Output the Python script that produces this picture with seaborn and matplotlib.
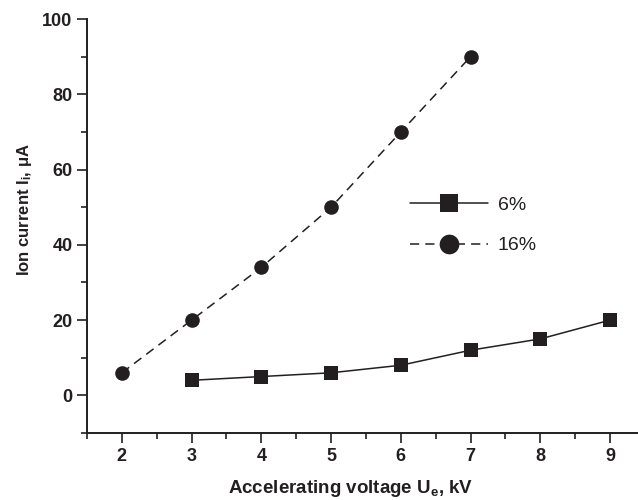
import numpy as np
import pandas as pd
import matplotlib
matplotlib.use("Agg")
import matplotlib.pyplot as plt
import seaborn as sns

# values
voltage_6 = [3, 4, 5, 6, 7, 8, 9]
current_6 = [4, 5, 6, 8, 12, 15, 20]
voltage_16 = [2, 3, 4, 5, 6, 7]
current_16 = [6, 20, 34, 50, 70, 90]

x_ticks = [2, 3, 4, 5, 6, 7, 8, 9]
y_ticks = [0, 20, 40, 60, 80, 100]

INK = "#231f20"

sns.set_theme(style="ticks")
plt.rcParams["font.family"] = ["Liberation Sans", "DejaVu Sans"]
plt.rcParams["mathtext.fontset"] = "custom"
plt.rcParams["mathtext.rm"] = "Liberation Sans"
plt.rcParams["mathtext.bf"] = "Liberation Sans:bold"
plt.rcParams["mathtext.it"] = "Liberation Sans:italic"

fig = plt.figure(figsize=(6.38, 5.0), dpi=100)
ax = fig.add_axes([87 / 638, 67 / 500, 1 - 87 / 638, (433 - 19) / 500])

df6 = pd.DataFrame({"U": voltage_6, "I": current_6})
df16 = pd.DataFrame({"U": voltage_16, "I": current_16})

sns.lineplot(data=df6, x="U", y="I", ax=ax, color=INK, lw=1.1,
             marker="s", markersize=9.5, markeredgewidth=0, label="6%")
sns.lineplot(data=df16, x="U", y="I", ax=ax, color=INK, lw=1.1,
             marker="o", markersize=10.5, markeredgewidth=0, label="16%",
             dashes=(6, 4))

ax.set_xlim(1.5, 9.4)
ax.set_ylim(-10, 100)
ax.set_xticks(x_ticks)
ax.set_yticks(y_ticks)
ax.set_xticks(np.arange(1.5, 9.5, 0.5), minor=True)
ax.set_yticks(np.arange(-10, 101, 10), minor=True)
ax.tick_params(which="major", length=7, width=1.2, color=INK,
               labelsize=13, labelcolor=INK, direction="out")
ax.tick_params(which="minor", length=4, width=1.2, color=INK, direction="out")
for lab in ax.get_xticklabels() + ax.get_yticklabels():
    lab.set_fontweight("bold")

sns.despine(ax=ax)
for side in ("left", "bottom"):
    ax.spines[side].set_linewidth(1.4)
    ax.spines[side].set_color(INK)

ax.set_xlabel(r"Accelerating voltage U$_\mathbf{e}$, kV", fontsize=13.5,
              fontweight="bold", color=INK)
ax.set_ylabel(r"Ion current I$_\mathbf{i}$, μA", fontsize=12,
              fontweight="bold", color=INK)
ax.xaxis.set_label_coords(0.479, -0.109)
ax.yaxis.set_label_coords(-0.096, 0.539)

ax.legend(loc="upper left", bbox_to_anchor=(0.555, 0.615), frameon=False,
          fontsize=14, handlelength=4.0, markerscale=1.35,
          labelspacing=1.2, handletextpad=0.5, labelcolor=INK)

fig.savefig("out.png", dpi=100)
